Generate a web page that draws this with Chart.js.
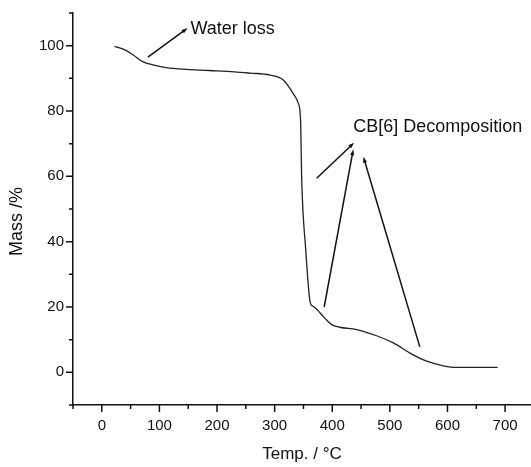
<!DOCTYPE html>
<html>
<head>
<meta charset="utf-8">
<script src="https://cdn.jsdelivr.net/npm/chart.js@4/dist/chart.umd.min.js"></script>
<style>
  body { margin: 0; background: #fff; }
  #wrap { width: 531px; height: 467px; }
</style>
</head>
<body>
<div id="wrap"><canvas id="tga"></canvas></div>
<script>
// Curve
const tempC = [22, 40, 54, 71, 89, 112, 141, 187, 230, 257, 292, 315, 332, 341, 345, 347, 354, 362, 367, 373, 387, 399, 413, 442, 477, 506, 535, 564, 593, 616, 687];
const massPct = [99.8, 98.7, 97.2, 95.1, 94.1, 93.3, 92.8, 92.4, 92.0, 91.6, 91.0, 89.5, 85.4, 82.4, 77.3, 59, 37.5, 21.2, 20.2, 19.3, 16.6, 14.6, 13.8, 13.1, 11.2, 9.0, 5.9, 3.4, 2.0, 1.5, 1.5];

// Annotations (data coordinates)
const noteText = ['Water loss', 'CB[6] Decomposition'];
const noteX = [154, 436.5];
const noteY = [103.6, 73.5];
const arrowFromX = [80, 373, 386, 552];
const arrowFromY = [96.5, 59.4, 20.0, 7.8];
const arrowToX = [149, 438, 436.5, 454];
const arrowToY = [105.4, 70.3, 68.3, 66];

const fontFamily = '"Liberation Sans", Arial, sans-serif';
const ink = '#111';

const notes = {
  id: 'notes',
  afterDraw(chart) {
    const ctx = chart.ctx;
    const x = chart.scales.x;
    const y = chart.scales.y;
    ctx.save();

    // tick marks, long for labelled ones
    ctx.strokeStyle = ink;
    ctx.lineWidth = 1.5;
    ctx.beginPath();
    x.ticks.forEach(t => {
      const px = x.getPixelForValue(t.value);
      const len = t.value % 100 === 0 ? 7 : 4;
      ctx.moveTo(px, x.top);
      ctx.lineTo(px, x.top + len);
    });
    y.ticks.forEach(t => {
      const py = y.getPixelForValue(t.value);
      const len = t.value % 20 === 0 ? 7 : 4;
      ctx.moveTo(y.right, py);
      ctx.lineTo(y.right - len, py);
    });
    ctx.stroke();

    // arrows
    ctx.fillStyle = ink;
    ctx.lineWidth = 1.5;
    for (let i = 0; i < arrowFromX.length; i++) {
      const x0 = x.getPixelForValue(arrowFromX[i]);
      const y0 = y.getPixelForValue(arrowFromY[i]);
      const x1 = x.getPixelForValue(arrowToX[i]);
      const y1 = y.getPixelForValue(arrowToY[i]);
      const a = Math.atan2(y1 - y0, x1 - x0);
      ctx.beginPath();
      ctx.moveTo(x0, y0);
      ctx.lineTo(x1 - 4 * Math.cos(a), y1 - 4 * Math.sin(a));
      ctx.stroke();
      ctx.beginPath();
      ctx.moveTo(x1, y1);
      ctx.lineTo(x1 - 6 * Math.cos(a) + 2 * Math.sin(a), y1 - 6 * Math.sin(a) - 2 * Math.cos(a));
      ctx.lineTo(x1 - 6 * Math.cos(a) - 2 * Math.sin(a), y1 - 6 * Math.sin(a) + 2 * Math.cos(a));
      ctx.closePath();
      ctx.fill();
    }

    // labels
    ctx.font = '18px ' + fontFamily;
    ctx.textAlign = 'left';
    ctx.textBaseline = 'alphabetic';
    noteText.forEach((txt, i) => {
      ctx.fillText(txt, x.getPixelForValue(noteX[i]), y.getPixelForValue(noteY[i]));
    });
    ctx.restore();
  }
};

new Chart(document.getElementById('tga'), {
  type: 'line',
  data: {
    datasets: [{
      data: tempC.map((t, i) => ({ x: t, y: massPct[i] })),
      borderColor: '#222',
      borderWidth: 1.3,
      pointRadius: 0,
      cubicInterpolationMode: 'monotone',
      fill: false
    }]
  },
  options: {
    responsive: true,
    maintainAspectRatio: false,
    animation: false,
    layout: { padding: { top: 13, right: 0, left: 0, bottom: 0 } },
    plugins: { legend: { display: false }, tooltip: { enabled: false } },
    scales: {
      x: {
        type: 'linear',
        min: -50,
        max: 745,
        afterFit: scale => { scale.height = 62; },
        grid: { display: false, drawTicks: false },
        border: { display: true, color: ink, width: 1.5 },
        ticks: {
          stepSize: 50,
          includeBounds: false,
          autoSkip: false,
          maxRotation: 0,
          padding: 12,
          color: ink,
          font: { family: fontFamily, size: 15 },
          callback: v => (v % 100 === 0 ? v : '')
        },
        title: {
          display: true,
          text: 'Temp. / °C',
          color: ink,
          font: { family: fontFamily, size: 17 },
          padding: { top: 0, bottom: 2 }
        }
      },
      y: {
        min: -10,
        max: 110,
        afterFit: scale => {
          scale.width = 73;
          scale.paddingTop = 0;
          scale.paddingBottom = 0;
        },
        grid: { display: false, drawTicks: false },
        border: { display: true, color: ink, width: 1.5 },
        ticks: {
          stepSize: 10,
          autoSkip: false,
          padding: 9,
          color: ink,
          font: { family: fontFamily, size: 15 },
          callback: v => (v % 20 === 0 ? v : '')
        },
        title: {
          display: true,
          text: 'Mass /%\u00a0\u00a0\u00a0\u00a0\u00a0',
          color: ink,
          font: { family: fontFamily, size: 18 },
          padding: { top: 6, bottom: 0 }
        }
      }
    }
  },
  plugins: [notes]
});
</script>
</body>
</html>
